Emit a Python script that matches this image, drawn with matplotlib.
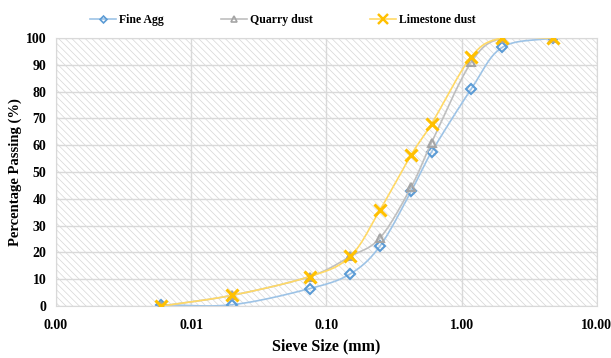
import numpy as np
import matplotlib.pyplot as plt
from matplotlib.patches import Rectangle

# Sieve sizes (mm) and percentage passing
sieve = [0.006, 0.02, 0.075, 0.15, 0.25, 0.425, 0.6, 1.18, 2.0, 4.75]
fine_agg = [0.5, 0.5, 6.5, 12.0, 22.5, 43.0, 57.5, 81.0, 96.5, 100.0]
quarry_dust = [0.0, 4.0, 11.0, 18.5, 25.5, 44.5, 61.0, 91.0, 100.0, 100.0]
limestone_dust = [0.0, 4.0, 11.0, 18.5, 36.0, 56.5, 68.0, 93.0, 100.0, 100.0]

x_ticks = [0.001, 0.01, 0.1, 1, 10]
x_tick_labels = ['0.00', '0.01', '0.10', '1.00', '10.00']
y_ticks = list(range(0, 101, 10))

plt.rcParams['font.family'] = ['Liberation Serif', 'DejaVu Serif']
plt.rcParams['font.weight'] = 'bold'
plt.rcParams['hatch.linewidth'] = 0.5
plt.rcParams['hatch.color'] = '#D6D6D6'


def smooth(xs, ys, n=30):
    # Excel-like smoothed line (Catmull-Rom) drawn in log-x space
    lx = np.log10(xs)
    ys = np.asarray(ys, float)
    px = np.concatenate([[2 * lx[0] - lx[1]], lx, [2 * lx[-1] - lx[-2]]])
    py = np.concatenate([[2 * ys[0] - ys[1]], ys, [2 * ys[-1] - ys[-2]]])
    ox, oy = [], []
    t = np.linspace(0, 1, n)
    for i in range(1, len(px) - 2):
        for p, out in ((px, ox), (py, oy)):
            p0, p1, p2, p3 = p[i - 1], p[i], p[i + 1], p[i + 2]
            out.extend(0.5 * (2 * p1 + (-p0 + p2) * t
                              + (2 * p0 - 5 * p1 + 4 * p2 - p3) * t ** 2
                              + (-p0 + 3 * p1 - 3 * p2 + p3) * t ** 3))
    return 10 ** np.array(ox), np.array(oy)


fig = plt.figure(figsize=(6.11, 3.58), dpi=100)
ax = fig.add_axes([0.0917, 0.145, 0.885, 0.749])

ax.add_patch(Rectangle((0, 0), 1, 1, transform=ax.transAxes, facecolor='white',
                       edgecolor='#D6D6D6', hatch='\\\\\\\\\\', linewidth=0, zorder=0))

series = [
    (fine_agg, 'Fine Agg', '#9DC3E6', '#5B9BD5', 'D', 5, 1.5),
    (quarry_dust, 'Quarry dust', '#BFBFBF', '#A5A5A5', '^', 6, 1.5),
    (limestone_dust, 'Limestone dust', '#FFD966', '#FFC000', 'x', 8, 2.2),
]
for i, (vals, name, lc, mc, mk, ms, mew) in enumerate(series):
    sx, sy = smooth(sieve, vals)
    ax.plot(sx, sy, color=lc, linewidth=1.2, zorder=2 + i)
    ax.plot(sieve, vals, linestyle='none', marker=mk, markersize=ms,
            markerfacecolor='none', markeredgecolor=mc, markeredgewidth=mew, zorder=2 + i)
    ax.plot([], [], color=lc, linewidth=1.2, marker=mk, markersize=ms - 1.5,
            markerfacecolor='none', markeredgecolor=mc, markeredgewidth=mew * 0.8, label=name)

ax.set_xscale('log')
ax.set_xlim(0.001, 10)
ax.set_ylim(0, 100)
ax.set_xticks(x_ticks)
ax.set_xticklabels(x_tick_labels)
ax.minorticks_off()
ax.set_yticks(y_ticks)
ax.tick_params(length=0, labelsize=10)
ax.tick_params(axis='x', pad=9)
ax.tick_params(axis='y', pad=7)
ax.grid(True, color='#D9D9D9', linewidth=1.0, zorder=1)
ax.set_axisbelow(True)
for s in ax.spines.values():
    s.set_color('#D9D9D9')

ax.set_xlabel('Sieve Size (mm)', fontsize=11.5, fontweight='bold', labelpad=5)
ax.set_ylabel('Percentage Passing (%)', fontsize=10.5, fontweight='bold', labelpad=3)

fig.legend(loc='upper center', bbox_to_anchor=(0.463, 0.99), ncol=3, frameon=False,
           fontsize=8.5, columnspacing=4.8, handlelength=2.2, handletextpad=0.3)

fig.savefig('out.png', dpi=100)
